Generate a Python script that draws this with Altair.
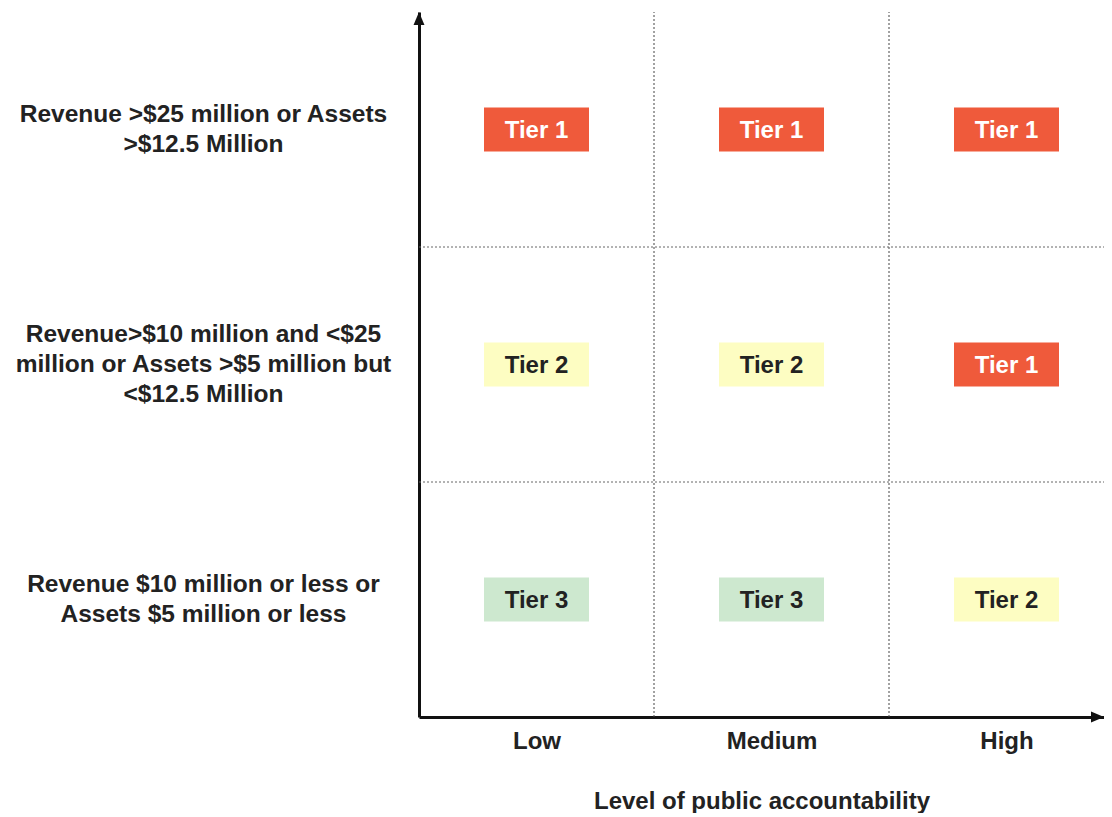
import json
import altair as alt
import pandas as pd

# ---------------- data ----------------
levels = ["Low", "Medium", "High"]                      # x categories (left -> right)
size_bands = [                                           # y categories (top -> bottom)
    ["Revenue >$25 million or Assets", ">$12.5 Million"],
    ["Revenue>$10 million and <$25", "million or Assets >$5 million but", "<$12.5 Million"],
    ["Revenue $10 million or less or", "Assets $5 million or less"],
]
tiers = [                                                # rows top -> bottom, cols Low..High
    ["Tier 1", "Tier 1", "Tier 1"],
    ["Tier 2", "Tier 2", "Tier 1"],
    ["Tier 3", "Tier 3", "Tier 2"],
]
tier_names = ["Tier 1", "Tier 2", "Tier 3"]
tier_fill = ["#EF5A3B", "#FDFDC2", "#CDE8CF"]
tier_text = ["#FFFFFF", "#222222", "#222222"]
x_title = "Level of public accountability"

# ---------------- layout ----------------
FONT = "Liberation Sans"
PLOT_W, PLOT_H = 685, 705
COL_W = 235.0
LINE_H = 30
NCOL, NROW = len(levels), len(size_bands)
XMAX = PLOT_W / COL_W
YMAX = float(NROW)

rows = []
for r, row in enumerate(tiers):
    for c, t in enumerate(row):
        rows.append({"x": c + 0.5, "y": (NROW - 1 - r) + 0.5, "tier": t})
cells = pd.DataFrame(rows)

vbounds = pd.DataFrame({"x": [float(i) for i in range(1, NCOL)]})
hbounds = pd.DataFrame({"y": [float(i) for i in range(1, NROW)]})
arrows = pd.DataFrame({
    "x": [0.0, XMAX],
    "y": [YMAX, 0.0],
    "shape": ["M0,0L-0.42,1L0.42,1Z", "M0,0L-1,-0.42L-1,0.42Z"],
})

bands_bottom_up = list(reversed(size_bands))
x_label_expr = json.dumps(levels) + "[floor(datum.value)]"
y_label_expr = json.dumps(bands_bottom_up) + "[floor(datum.value)]"
# vertical centring of the multi-line row labels
line_counts = json.dumps([len(b) for b in bands_bottom_up])
y_label_offset = {"expr": "0"}
three_line_vals = [i + 0.5 for i, b in enumerate(bands_bottom_up) if len(b) == 3]
y_label_offset = {
    "condition": {
        "test": "indexof(" + json.dumps(three_line_vals) + ", datum.value) >= 0",
        "value": -LINE_H,
    },
    "value": -LINE_H / 2,
}

x_scale = alt.Scale(domain=[0, XMAX], nice=False, zero=False)
y_scale = alt.Scale(domain=[0, YMAX], nice=False, zero=False)

x_axis = alt.Axis(
    values=[c + 0.5 for c in range(NCOL)], labelExpr=x_label_expr,
    title=x_title, grid=False, ticks=False, tickSize=0,
    domainColor="#111111", domainWidth=3,
    labelFont=FONT, labelFontSize=24, labelFontWeight="bold", labelColor="#222222",
    labelPadding=12, labelAngle=0, labelLimit=400,
    titleFont=FONT, titleFontSize=24, titleFontWeight="bold", titleColor="#222222",
    titlePadding=36,
)
y_axis = alt.Axis(
    values=[r + 0.5 for r in range(NROW)], labelExpr=y_label_expr,
    title=None, grid=False, ticks=False, tickSize=0,
    domainColor="#111111", domainWidth=3,
    labelFont=FONT, labelFontSize=24.5, labelFontWeight="bold", labelColor="#222222",
    labelAlign="center", labelBaseline="middle", labelPadding=216,
    labelLineHeight=LINE_H, labelLimit=500, labelOffset=y_label_offset,
)

X = alt.X("x:Q", scale=x_scale, axis=x_axis)
Y = alt.Y("y:Q", scale=y_scale, axis=y_axis)

vrules = alt.Chart(vbounds).mark_rule(
    color="#444444", strokeWidth=1, strokeDash=[2, 2]
).encode(x=X, y=alt.datum(0, scale=y_scale), y2=alt.datum(YMAX))

hrules = alt.Chart(hbounds).mark_rule(
    color="#666666", strokeWidth=1, strokeDash=[2, 2]
).encode(y=Y, x=alt.datum(0, scale=x_scale), x2=alt.datum(XMAX))

boxes = alt.Chart(cells).mark_point(
    filled=True, opacity=1, strokeWidth=0,
    shape="M-1,-0.42L1,-0.42L1,0.42L-1,0.42Z", size=105 * 105,
).encode(
    x=X, y=Y,
    color=alt.Color("tier:N", scale=alt.Scale(domain=tier_names, range=tier_fill), legend=None),
)

labels = alt.Chart(cells).mark_text(
    font=FONT, fontSize=24, fontWeight="bold", baseline="middle", align="center", dy=1,
).encode(
    x=X, y=Y, text="tier:N",
    color=alt.Color("tier:N", scale=alt.Scale(domain=tier_names, range=tier_text), legend=None),
)

heads = alt.Chart(arrows).mark_point(
    filled=True, opacity=1, strokeWidth=0, color="#111111", size=26 * 26,
).encode(x=X, y=Y, shape=alt.Shape("shape:N", scale=None, legend=None))

chart = alt.layer(vrules, hrules, boxes, labels, heads).resolve_scale(
    color="independent"
).properties(
    width=PLOT_W, height=PLOT_H,
    autosize=alt.AutoSizeParams(type="none"),
    padding={"left": 411, "top": 4, "right": 0, "bottom": 96},
    background="#FFFFFF",
).configure_view(stroke=None)

chart.save("out.html", embed_options={"renderer": "svg", "actions": False})
